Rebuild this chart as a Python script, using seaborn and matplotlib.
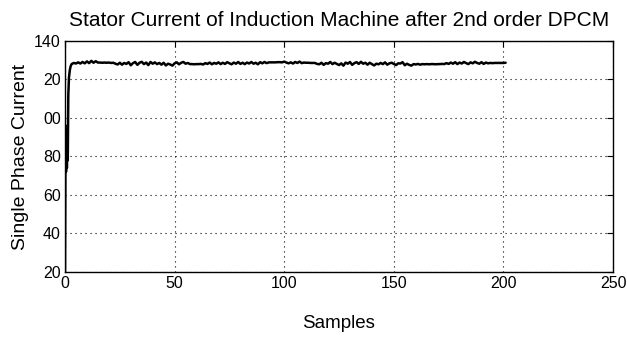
import matplotlib
matplotlib.use("Agg")
import matplotlib.pyplot as plt
import seaborn as sns
import pandas as pd

# Transient at the very start (fine sample positions)
start_x = [0, 0.25, 0.45, 0.65, 0.85, 1.05, 1.25, 1.5, 1.8, 2.2, 2.6]
start_y = [20, 95, 72, 94, 74, 96, 78, 112, 121, 125, 127]

# Steady-state samples 3..201
steady_y = [
    128.0,128.6,128.3,128.9,128.3,129.1,128.4,129.4,128.5,129.7,
    128.7,129.5,128.8,128.8,128.7,128.8,128.7,128.8,128.6,128.7,
    128.2,127.8,128.7,127.7,128.6,128.1,129.0,127.4,128.5,129.1,
    127.6,128.7,129.2,128.0,128.8,127.5,129.1,128.2,128.9,128.0,
    128.6,127.7,128.7,127.3,128.2,127.8,127.2,128.4,128.9,127.9,
    128.7,129.1,128.2,128.6,128.0,128.0,127.9,128.0,128.0,128.1,
    127.8,128.5,128.1,128.8,127.9,128.6,128.2,128.9,128.0,128.7,
    128.1,129.0,128.4,127.9,128.8,128.2,129.1,128.1,128.7,128.0,
    128.8,128.3,129.1,128.2,128.7,127.9,129.0,128.4,129.1,128.5,
    128.9,128.9,128.9,128.9,129.0,129.0,128.9,129.3,128.8,128.4,
    128.9,128.3,129.1,128.6,129.3,128.5,128.8,128.7,128.7,128.6,
    128.6,128.6,128.1,127.9,128.7,127.6,128.5,128.2,129.1,128.0,
    128.7,128.1,127.5,128.4,127.2,128.8,128.2,129.1,127.6,128.5,
    129.0,128.1,129.2,128.2,128.7,127.7,128.7,128.0,127.3,128.2,
    127.9,128.6,128.0,128.9,127.7,128.4,128.7,128.1,127.5,128.4,
    128.3,129.0,127.4,128.2,127.6,127.2,128.0,127.8,128.1,127.7,
    128.0,127.9,128.0,127.9,128.0,128.0,127.9,128.0,128.0,128.1,
    128.0,128.5,128.1,128.8,128.2,129.0,128.0,128.8,128.3,129.1,
    128.5,128.0,128.9,128.4,129.2,128.6,128.2,129.0,128.1,128.8,
    128.4,128.6,128.5,128.6,128.6,128.6,128.6,128.6,128.7,
]
steady_x = list(range(3, 3 + len(steady_y)))

x_ticks = [0, 50, 100, 150, 200, 250]
y_ticks = [20, 40, 60, 80, 100, 120, 140]
y_tick_labels = ["20", "40", "60", "80", "00", "20", "140"]

title = "Stator Current of Induction Machine after 2nd order DPCM"
xlabel = "Samples"
ylabel = "Single Phase Current"

df = pd.DataFrame({"x": start_x + steady_x, "y": start_y + steady_y})

sns.set_style("white")
plt.rcParams["font.family"] = ["Liberation Sans", "DejaVu Sans"]
plt.rcParams["text.color"] = "black"
plt.rcParams["axes.labelcolor"] = "black"

fig = plt.figure(figsize=(6.27, 3.38), dpi=100)
ax = fig.add_axes([0.1037, 0.1953, 0.8740, 0.6834])

sns.lineplot(data=df, x="x", y="y", sort=False, color="black", linewidth=1.8,
             estimator=None, ax=ax)

ax.set_xlim(0, 250)
ax.set_ylim(20, 140)
ax.set_xticks(x_ticks)
ax.set_xticklabels([str(t) for t in x_ticks])
ax.set_yticks(y_ticks)
ax.set_yticklabels(y_tick_labels)

ax.grid(True, color="black", linestyle=(0, (1, 3.5)), linewidth=0.8)
for s in ax.spines.values():
    s.set_color("black")
    s.set_linewidth(1.0)
ax.tick_params(direction="in", length=4, width=0.8, top=True, right=True,
               labelsize=11.5, colors="black", pad=3)

ax.set_title(title, fontsize=15, pad=11, color="black")
ax.set_xlabel(xlabel, fontsize=13.5, labelpad=17, color="black")
ax.set_ylabel(ylabel, fontsize=14, labelpad=4, color="black")

fig.savefig("out.png", dpi=100)
